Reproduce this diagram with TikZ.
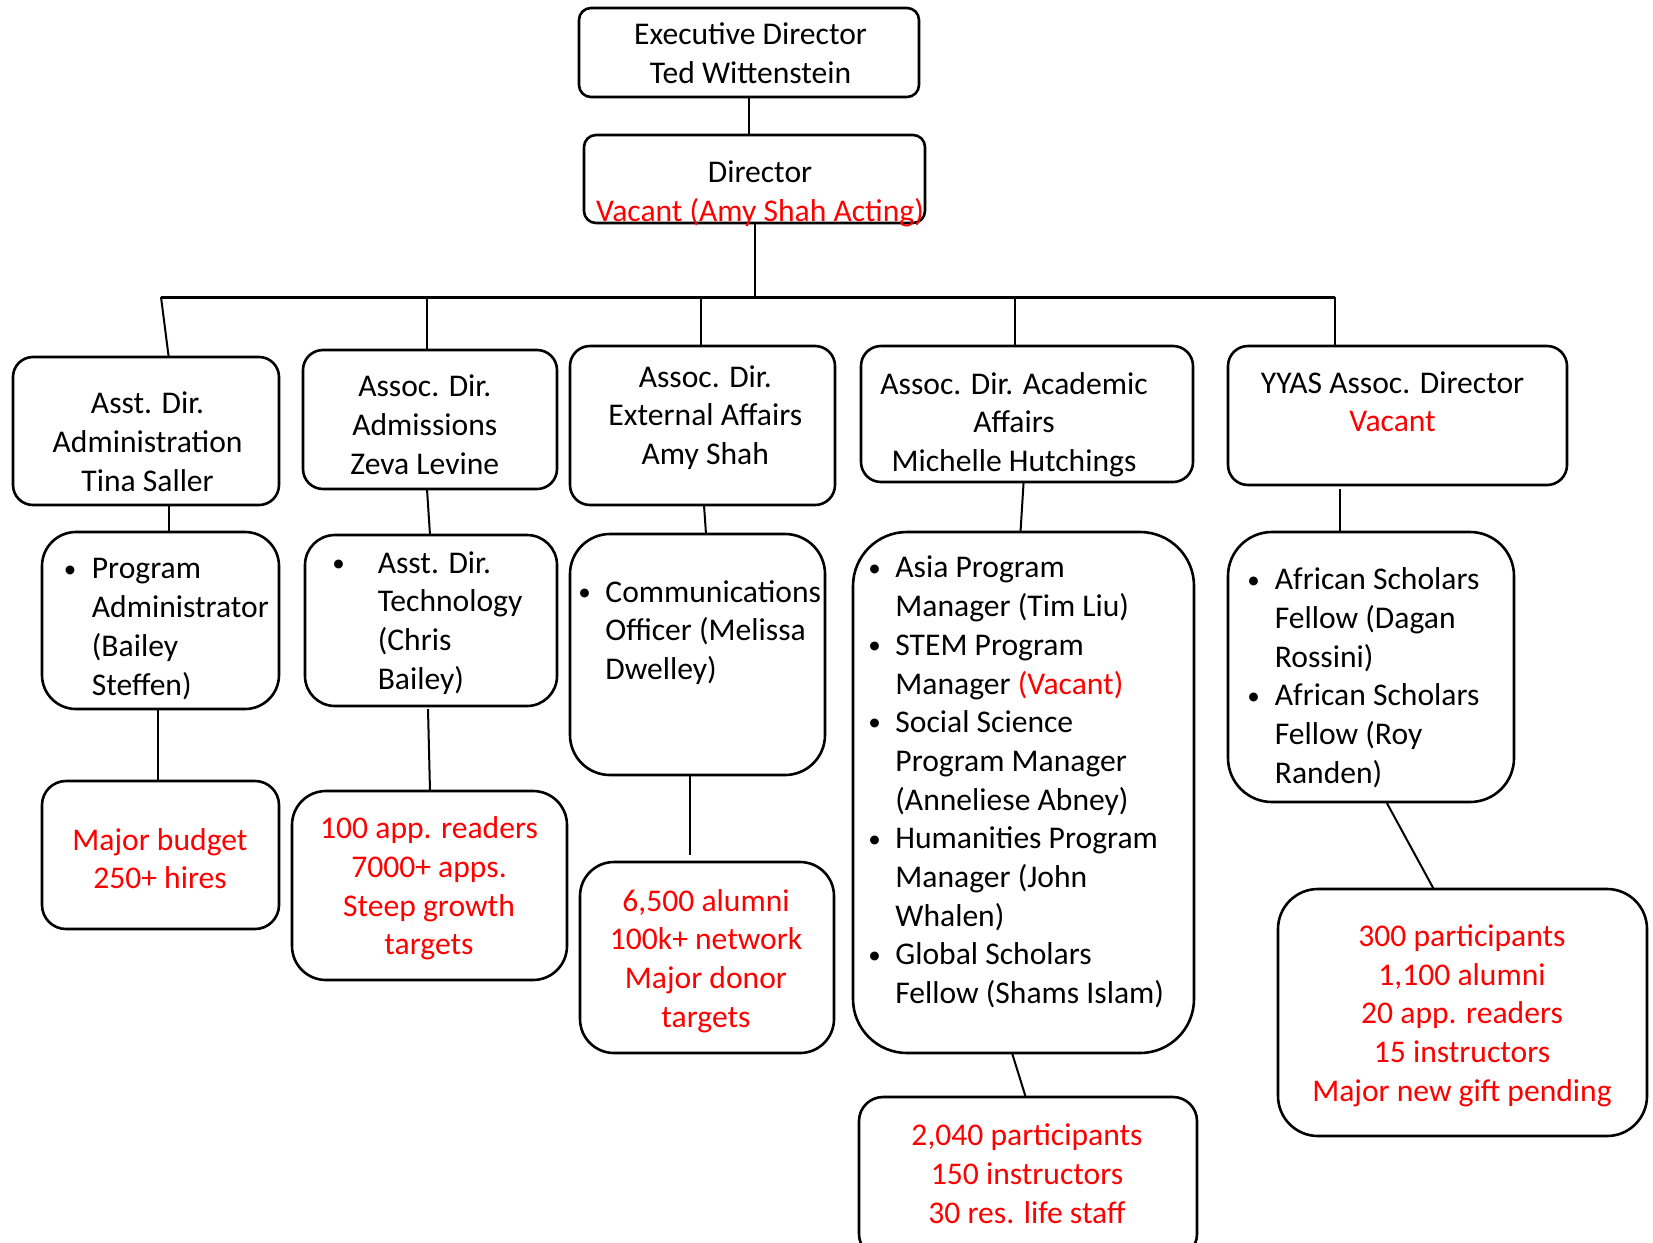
\documentclass[tikz,border=0pt]{standalone}
\usepackage{fontspec}
\setmainfont{Carlito}
\usetikzlibrary{calc}
\newcommand{\orgbox}[6]{\node[box, rounded corners=#6, minimum width={(#4-#2)*0.5pt}, minimum height={(#5-#3)*0.5pt}] (#1) at ({(#2+#4)/2},{(#3+#5)/2}) {};}
\newcommand{\bul}[1]{\makebox[#1][l]{\raisebox{0.9pt}{\fontsize{12.5}{12.5}\selectfont •}}}
\newcommand{\ind}[1]{\hspace*{#1}}
\begin{document}
\begin{tikzpicture}[x=0.5pt,y=-0.5pt,
  box/.style={draw, line width=1.3pt, inner sep=0pt, outer sep=0pt},
  conn/.style={line width=1pt},
  barline/.style={line width=1.5pt},
  txt/.style={font=\fontsize{15.8}{19.35}\selectfont, align=center, inner sep=0pt, yshift=-1pt},
  rtxt/.style={txt, text=red},
  lst/.style={txt, align=left, anchor=west}]
\fill[white] (0,0) rectangle (1653,1242);
\useasboundingbox (0,0) rectangle (1653,1242);

% boxes
\orgbox{exec}{579}{8}{919}{97}{6pt}
\orgbox{dir}{584}{135}{925}{223}{6pt}
\orgbox{a1}{13}{357}{279}{505}{10pt}
\orgbox{a2}{303}{350}{557}{489}{10pt}
\orgbox{a3}{570}{346}{835}{505}{10pt}
\orgbox{a4}{861}{346}{1193}{482}{10pt}
\orgbox{a5}{1228}{346}{1567}{485}{10pt}
\orgbox{b1}{42}{532}{279}{709}{17pt}
\orgbox{b2}{305}{535}{557}{706}{15pt}
\orgbox{b3}{570}{534}{825}{775}{20pt}
\orgbox{b4}{853}{532}{1194}{1053}{27pt}
\orgbox{b5}{1228}{532}{1514}{802}{22pt}
\orgbox{c1}{42}{781}{279}{929}{12pt}
\orgbox{c2}{292}{791}{567}{980}{17pt}
\orgbox{c3}{580}{862}{834}{1053}{17pt}
\orgbox{c4}{859}{1097}{1197}{1258}{12pt}
\orgbox{c5}{1278}{889}{1647}{1136}{20pt}

% texts
\node[txt] (t-exec) at (750.6,51.1) {Executive Director\\Ted Wittenstein};
\node[txt] (t-dir) at (760,191.5) {Director\\\textcolor{red}{Vacant (Amy Shah Acting)}};
\node[txt] (t-a1) at (147.6,439.6) {Asst. Dir.\\Administration\\Tina Saller};
\node[txt] (t-a2) at (424.8,422.7) {Assoc. Dir.\\Admissions\\Zeva Levine};
\node[txt] (t-a3) at (705.3,415.4) {Assoc. Dir.\\External Affairs\\Amy Shah};
\node[txt] (t-a4) at (1014,422.7) {Assoc. Dir. Academic\\Affairs\\Michelle Hutchings};
\node[txt] (t-a5) at (1392.6,399.6) {YYAS Assoc. Director\\\textcolor{red}{Vacant}};

\node[lst] (t-b1) at (63.5,627) {\bul{14pt}Program\\\ind{14pt}Administrator\\\ind{14pt}(Bailey\\\ind{14pt}Steffen)};
\node[lst] (t-b2) at (332,621) {\bul{22.7pt}Asst. Dir.\\\ind{22.7pt}Technology\\\ind{22.7pt}(Chris\\\ind{22.7pt}Bailey)};
\node[lst] (t-b3) at (578,630.4) {\bul{13.5pt}Communications\\\ind{13.5pt}Officer (Melissa\\\ind{13.5pt}Dwelley)};
\node[lst] (t-b4) at (868,780.1) {\bul{13.5pt}Asia Program\\\ind{13.5pt}Manager (Tim Liu)\\\bul{13.5pt}STEM Program\\\ind{13.5pt}Manager \textcolor{red}{(Vacant)}\\\bul{13.5pt}Social Science\\\ind{13.5pt}Program Manager\\\ind{13.5pt}(Anneliese Abney)\\\bul{13.5pt}Humanities Program\\\ind{13.5pt}Manager (John\\\ind{13.5pt}Whalen)\\\bul{13.5pt}Global Scholars\\\ind{13.5pt}Fellow (Shams Islam)};
\node[lst] (t-b5) at (1247,675.8) {\bul{13.75pt}African Scholars\\\ind{13.75pt}Fellow (Dagan\\\ind{13.75pt}Rossini)\\\bul{13.75pt}African Scholars\\\ind{13.75pt}Fellow (Roy\\\ind{13.75pt}Randen)};

\node[rtxt] (t-c1) at (160,856.5) {Major budget\\250+ hires};
\node[rtxt] (t-c2) at (429,886.6) {100 app. readers\\7000+ apps.\\Steep growth\\targets};
\node[rtxt] (t-c3) at (706,958.8) {6,500 alumni\\100k+ network\\Major donor\\targets};
\node[rtxt] (t-c4) at (1027,1171.8) {2,040 participants\\150 instructors\\30 res. life staff};
\node[rtxt] (t-c5) at (1462,1013.6) {300 participants\\1,100 alumni\\20 app. readers\\15 instructors\\Major new gift pending};

% connectors
\coordinate (barL) at (161,297);
\coordinate (barR) at (1335,297);
\coordinate (j2) at (427,297);
\coordinate (j3) at (701,297);
\coordinate (j4) at (1015,297);
\draw[conn] ([xshift=-0.25pt]exec.south) -- ([xshift=-3pt]dir.north);
\draw[conn] (dir.south) -- (dir.south |- barL);
\draw[barline] (barL) -- (barR);
\draw[conn] (barL) -- ([xshift=11.35pt]a1.north);
\draw[conn] (j2) -- (j2 |- a2.north);
\draw[conn] (j3) -- (j3 |- a3.north);
\draw[conn] (j4) -- (j4 |- a4.north);
\draw[conn] (barR) -- (barR |- a5.north);
\draw[conn] ([xshift=11.35pt]a1.south) -- ([xshift=4.1pt]b1.north);
\draw[conn] ([xshift=-1.25pt]b1.south) -- ([xshift=-1.25pt]c1.north);
\draw[conn] ([xshift=-1.5pt]a2.south) -- ([xshift=-0.5pt]b2.north);
\draw[conn] ([xshift=-1.5pt,yshift=-1.5pt]b2.south) -- ([xshift=0.25pt]c2.north);
\draw[conn] ([xshift=0.75pt]a3.south) -- ([xshift=4.25pt]b3.north);
\draw[conn] ([xshift=-4pt]b3.south) -- ([xshift=-8.75pt,yshift=3.5pt]c3.north);
\draw[conn] ([xshift=-1.7pt]a4.south) -- ([xshift=-1.5pt]b4.north);
\draw[conn] ([xshift=-5.75pt]b4.south) -- ([xshift=-1.15pt]c4.north);
\draw[conn] ([xshift=-28.75pt,yshift=-2pt]a5.south) -- ([xshift=-15.5pt]b5.north);
\draw[conn] ([xshift=7.65pt]b5.south) -- ([xshift=-14.4pt]c5.north);
\end{tikzpicture}
\end{document}
